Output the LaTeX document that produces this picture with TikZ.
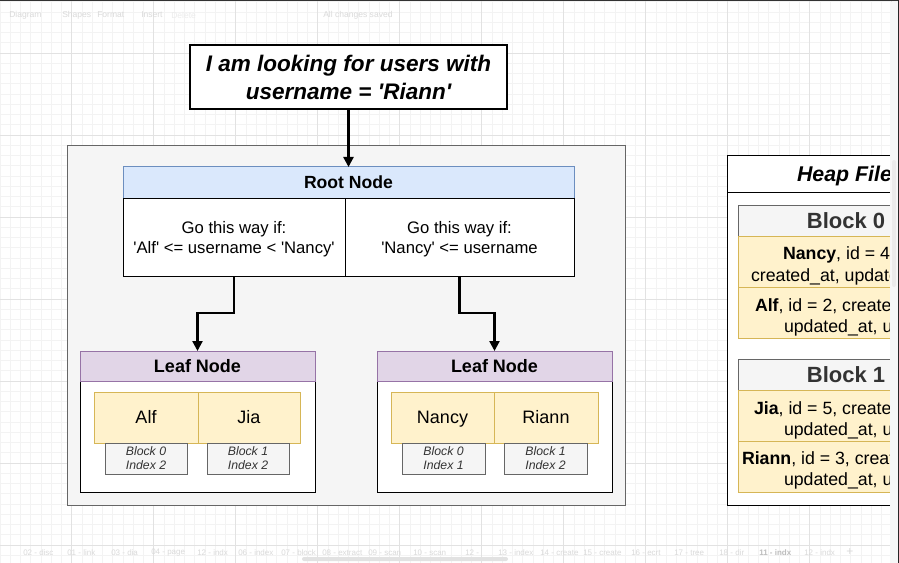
\documentclass[tikz,border=0pt]{standalone}
\usepackage{fontspec}
\setmainfont{Liberation Sans}
\usetikzlibrary{arrows.meta}
\definecolor{contfill}{HTML}{F5F5F5}
\definecolor{contdraw}{HTML}{666666}
\definecolor{rootfill}{HTML}{DAE8FC}
\definecolor{rootdraw}{HTML}{6C8EBF}
\definecolor{leaffill}{HTML}{E1D5E7}
\definecolor{leafdraw}{HTML}{9673A6}
\definecolor{yelfill}{HTML}{FFF2CC}
\definecolor{yeldraw}{HTML}{D6B656}
\definecolor{darktext}{HTML}{333333}
\definecolor{gridminor}{HTML}{F3F3F3}
\definecolor{gridmajor}{HTML}{E2E2E2}
\definecolor{uitext}{HTML}{DADADA}
\definecolor{uitextdark}{HTML}{BDBDBD}
\definecolor{strip}{HTML}{F6F7F7}
\newcommand\sq{\textquotesingle}
\newcommand\mkbox[7]{%
  \pgfmathsetmacro\mkw{(#4-#2)*0.75}%
  \pgfmathsetmacro\mkh{(#5-#3)*0.75}%
  \node[#6, minimum width=\mkw pt, minimum height=\mkh pt] (#1) at ({(#2+#4)/2},{(#3+#5)/2}) {#7};}
\begin{document}
\begin{tikzpicture}[x=0.75pt,y=-0.75pt,
  bx/.style={draw, inner sep=0pt, outer sep=0pt, line width=0.75pt},
  capc/.style={text height=#1, text depth=0pt},
  titlebox/.style={bx, fill=white, draw=black, line width=1.1pt, align=center,
    font=\fontsize{16.9pt}{21pt}\selectfont\bfseries\itshape},
  cont/.style={bx, fill=contfill, draw=contdraw},
  roothead/.style={bx, capc=9.45pt, fill=rootfill, draw=rootdraw, font=\fontsize{13.2pt}{16pt}\selectfont\bfseries},
  rootcell/.style={bx, fill=white, draw=black, align=center, font=\fontsize{12.5pt}{14.6pt}\selectfont},
  leafhead/.style={bx, capc=9.67pt, fill=leaffill, draw=leafdraw, font=\fontsize{13.5pt}{16pt}\selectfont\bfseries},
  leafbody/.style={bx, fill=white, draw=black},
  yelcell/.style={bx, capc=9.67pt, fill=yelfill, draw=yeldraw, font=\fontsize{13.5pt}{16pt}\selectfont},
  ptr/.style={bx, fill=contfill, draw=contdraw, align=center, text=darktext,
    font=\fontsize{9.2pt}{10.5pt}\selectfont\itshape},
  heapout/.style={bx, fill=white, draw=black},
  heaphead/.style={bx, capc=11.46pt, fill=white, draw=black, font=\fontsize{16pt}{19pt}\selectfont\bfseries\itshape},
  blockhead/.style={bx, capc=11.8pt, fill=contfill, draw=contdraw, text=darktext, font=\fontsize{16.5pt}{20pt}\selectfont\bfseries},
  rowcell/.style={bx, fill=yelfill, draw=yeldraw},
  rowtext/.style={anchor=base west, inner sep=0pt, outer sep=0pt, font=\fontsize{13.3pt}{16.5pt}\selectfont},
  arr/.style={draw=black, line width=1.7pt, -{Triangle[length=7.5pt,width=7.5pt]}},
  ui/.style={anchor=west, inner sep=0pt, text=uitext, font=\fontsize{6.4pt}{8pt}\selectfont},
  tab/.style={anchor=west, inner sep=0pt, text=uitext, font=\fontsize{6pt}{8pt}\selectfont}
]
\useasboundingbox (0,0) rectangle (899,563);
\fill[white] (0,0) rectangle (899,563);
% grid
\foreach \k in {0,...,88} {\draw[gridminor, line width=0.5pt] ({10.25*\k},0) -- ({10.25*\k},563);}
\foreach \k in {0,...,55} {\draw[gridminor, line width=0.5pt] (0,{1.75+10.25*\k}) -- (899,{1.75+10.25*\k});}
\foreach \k in {0,...,10} {\draw[gridmajor, line width=0.6pt] ({71.75+82*\k},0) -- ({71.75+82*\k},563);}
\foreach \k in {0,...,6} {\draw[gridmajor, line width=0.6pt] (0,{53+82*\k}) -- (899,{53+82*\k});}

% toolbar (faint)
\node[ui] (tbDiagram) at (9,15) {Diagram};
\node[ui] (tbShapes) at (62,15) {Shapes};
\node[ui] (tbFormat) at (97,15) {Format};
\node[ui] (tbInsert) at (141,15) {Insert};
\node[ui, text=uitext!50] (tbDelete) at (171,15) {Delete};
\node[ui] (tbSaved) at (323,15) {All changes saved};

% bottom tabs (faint)
\node[tab] (t1) at (23,553) {02 - disc};
\node[tab] (t2) at (67,553) {01 - link};
\node[tab] (t3) at (111,553) {03 - dia};
\node[tab] (t4) at (151,553) {04 - page};
\node[tab] (t5) at (197,553) {12 - indx};
\node[tab] (t6) at (238,553) {06 - index};
\node[tab] (t7) at (281,553) {07 - block};
\node[tab] (t8) at (322,553) {08 - extract};
\node[tab] (t9) at (368,553) {09 - scan};
\node[tab] (t10) at (413,553) {10 - scan};
\node[tab] (t11) at (465,553) {12 -};
\node[tab] (t12) at (498,553) {13 - index};
\node[tab] (t13) at (540,553) {14 - create};
\node[tab] (t14) at (583,553) {15 - create};
\node[tab] (t15) at (631,553) {16 - ecrt};
\node[tab] (t16) at (674,553) {17 - tree};
\node[tab] (t17) at (719,553) {18 - dir};
\node[tab, text=uitextdark, font=\fontsize{6pt}{8pt}\selectfont\bfseries] (t18) at (759,553) {11 - indx};
\node[tab] (t19) at (804,553) {12 - indx};
\node[tab, font=\fontsize{9pt}{10pt}\selectfont] (t20) at (846,552) {+};
\fill[gridmajor, rounded corners=1.5pt] (302,557) rectangle (508,561);

% container
\mkbox{cont}{67}{146}{625}{505}{cont}{}

% title
\mkbox{q}{190}{45}{507}{109}{titlebox}{I am looking for users with\\username = \sq Riann\sq}

% root node
\mkbox{roothd}{123}{167}{574}{198}{roothead}{Root Node}
\mkbox{rootL}{123}{198}{345}{276}{rootcell}{\rule{0pt}{12.2pt}Go this way if:\\\sq Alf\sq{} <= username < \sq Nancy\sq}
\mkbox{rootR}{345}{198}{574}{276}{rootcell}{\rule{0pt}{12.2pt}Go this way if:\\\sq Nancy\sq{} <= username}

% left leaf
\mkbox{leafLbody}{80}{381}{315}{492}{leafbody}{}
\mkbox{leafL}{80}{351}{315}{381}{leafhead}{Leaf Node}
\mkbox{cAlf}{94}{392}{198}{443}{yelcell}{Alf}
\mkbox{cJia}{198}{392}{300}{443}{yelcell}{Jia}
\mkbox{pAlf}{105}{443}{187}{474}{ptr}{Block 0\\Index 2}
\mkbox{pJia}{207}{443}{289}{474}{ptr}{Block 1\\Index 2}

% right leaf
\mkbox{leafRbody}{377}{381}{612}{492}{leafbody}{}
\mkbox{leafR}{377}{351}{612}{381}{leafhead}{Leaf Node}
\mkbox{cNancy}{391}{392}{494}{443}{yelcell}{Nancy}
\mkbox{cRiann}{494}{392}{598}{443}{yelcell}{Riann}
\mkbox{pNancy}{402}{443}{485}{474}{ptr}{Block 0\\Index 1}
\mkbox{pRiann}{504}{443}{587}{474}{ptr}{Block 1\\Index 2}

% connectors
\draw[arr] (q.south) -- (roothd.north);
\draw[arr] (rootL.south) -- ++(0,37) -| (leafL.north);
\draw[arr] (rootR.south) -- ++(0,37) -| (leafR.north);

% heap file (clipped by the window edge)
\begin{scope}
\clip (700,140) rectangle (890,530);
\mkbox{heap}{727}{156}{965}{505}{heapout}{}
\mkbox{heaphd}{727}{156}{962}{192}{heaphead}{Heap File}
\mkbox{blk0}{738}{205}{954}{236}{blockhead}{Block 0}
\mkbox{r0a}{738}{236}{954}{287}{rowcell}{}
\mkbox{r0b}{738}{287}{954}{338}{rowcell}{}
\mkbox{blk1}{738}{359}{954}{390}{blockhead}{Block 1}
\mkbox{r1a}{738}{390}{954}{441}{rowcell}{}
\mkbox{r1b}{738}{441}{954}{492}{rowcell}{}
\node[rowtext] (r0a1) at (783,259) {\textbf{Nancy}, id = 4,};
\node[rowtext] (r0a2) at (751,281) {created\_at, updated\_at,};
\node[rowtext] (r0b1) at (755,311) {\textbf{Alf}, id = 2, created\_at,};
\node[rowtext] (r0b2) at (784,332) {updated\_at, username};
\node[rowtext] (r1a1) at (754,414) {\textbf{Jia}, id = 5, created\_at,};
\node[rowtext] (r1a2) at (784,435) {updated\_at, username};
\node[rowtext] (r1b1) at (742,464) {\textbf{Riann}, id = 3, created\_at,};
\node[rowtext] (r1b2) at (784,485) {updated\_at, username};
\end{scope}

% window edges
\fill[strip] (890,2) rectangle (899,563);
\fill[gridmajor!70, rounded corners=1.5pt] (892,160) rectangle (896,287);
\fill[black!80] (0,0) rectangle (899,1.2);
\fill[black!85] (897.8,0) rectangle (899,563);
\end{tikzpicture}
\end{document}
